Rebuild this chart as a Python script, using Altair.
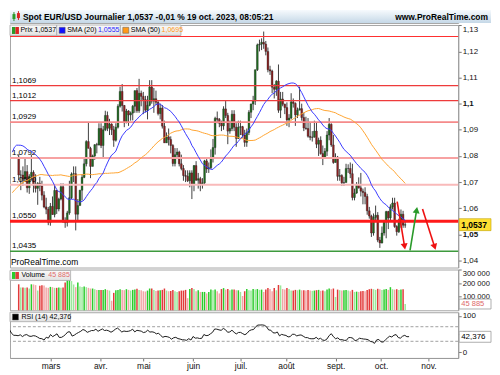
import math
import altair as alt
import pandas as pd

# ---------------- data ----------------
# closes before the visible window (21 nov. 2022 -> 3 févr. 2023), used to seed SMA / RSI
prior_closes = [1.0245, 1.0305, 1.0395, 1.0405, 1.0400, 1.0340, 1.0330, 1.0405,
                1.0525, 1.0535, 1.0490, 1.0467, 1.0507, 1.0556, 1.0530, 1.0537, 1.0630, 1.0680,
                1.0627, 1.0585, 1.0605, 1.0622, 1.0605, 1.0595, 1.0615, 1.0640, 1.0640, 1.0613,
                1.0662, 1.0705,
                1.0670, 1.0545, 1.0605, 1.0520, 1.0645, 1.0730, 1.0733, 1.0760, 1.0850, 1.0830,
                1.0820, 1.0790, 1.0795, 1.0830, 1.0855, 1.0870, 1.0885, 1.0915, 1.0890, 1.0870,
                1.0850, 1.0862, 1.0990, 1.0905, 1.0795]
first_open = 1.0795

# visible daily candles, 6 févr. 2023 -> 19 oct. 2023
closes = [
    1.0727, 1.0727, 1.0713, 1.0740, 1.0678, 1.0722, 1.0737, 1.0688, 1.0676, 1.0695,
    1.0685, 1.0650, 1.0605, 1.0596, 1.0546, 1.0607, 1.0576, 1.0668, 1.0597, 1.0635,
    1.0682, 1.0547, 1.0545, 1.0582, 1.0640, 1.0731, 1.0732, 1.0577, 1.0610, 1.0669,
    1.0718, 1.0770, 1.0855, 1.0829, 1.0760, 1.0800, 1.0843, 1.0842, 1.0905, 1.0840,
    1.0900, 1.0955, 1.0906, 1.0922, 1.0900, 1.0860, 1.0910, 1.0990, 1.1047, 1.0993,
    1.0927, 1.0972, 1.0957, 1.0964, 1.0990, 1.1050, 1.0973, 1.1040, 1.1028, 1.1016,
    1.0975, 1.0994, 1.1064, 1.1010, 1.1019, 1.1005, 1.0962, 1.0983, 1.0914, 1.0850,
    1.0873, 1.0863, 1.0840, 1.0771, 1.0805, 1.0815, 1.0770, 1.0752, 1.0725, 1.0722,
    1.0705, 1.0735, 1.0689, 1.0763, 1.0707, 1.0713, 1.0693, 1.0697, 1.0781, 1.0750,
    1.0755, 1.0792, 1.0832, 1.0944, 1.0940, 1.0925, 1.0915, 1.0980, 1.0955, 1.0895,
    1.0905, 1.0960, 1.0910, 1.0867, 1.0910, 1.0912, 1.0880, 1.0852, 1.0890, 1.0967,
    1.0999, 1.1010, 1.1130, 1.1225, 1.1228, 1.1235, 1.1228, 1.1200, 1.1130, 1.1125,
    1.1063, 1.1055, 1.1086, 1.0975, 1.1018, 1.0998, 1.0985, 1.0938, 1.0945, 1.1007,
    1.1001, 1.0957, 1.0975, 1.0981, 1.0947, 1.0907, 1.0905, 1.0875, 1.0871, 1.0872,
    1.0895, 1.0845, 1.0860, 1.0809, 1.0794, 1.0818, 1.0880, 1.0921, 1.0842, 1.0775,
    1.0795, 1.0722, 1.0725, 1.0697, 1.0698, 1.0752, 1.0752, 1.0732, 1.0641, 1.0658,
    1.0691, 1.0678, 1.0665, 1.0660, 1.0645, 1.0590, 1.0570, 1.0505, 1.0565, 1.0573,
    1.0478, 1.0467, 1.0505, 1.0548, 1.0587, 1.0563, 1.0605, 1.0620, 1.0530, 1.0510,
    1.0555, 1.0577, 1.0535, 1.0537]
highs = [
    1.0806, 1.0745, 1.0760, 1.0790, 1.0765, 1.0730, 1.0805, 1.0745, 1.0730, 1.0700,
    1.0720, 1.0705, 1.0665, 1.0640, 1.0605, 1.0620, 1.0645, 1.0690, 1.0670, 1.0640,
    1.0695, 1.0695, 1.0565, 1.0590, 1.0705, 1.0737, 1.0760, 1.0760, 1.0635, 1.0670,
    1.0730, 1.0790, 1.0860, 1.0930, 1.0835, 1.0805, 1.0845, 1.0850, 1.0925, 1.0925,
    1.0915, 1.0973, 1.0970, 1.0942, 1.0925, 1.0915, 1.0925, 1.0998, 1.1065, 1.1075,
    1.0995, 1.0980, 1.0975, 1.0970, 1.0995, 1.1050, 1.1060, 1.1095, 1.1050, 1.1045,
    1.1030, 1.1030, 1.1090, 1.1090, 1.1060, 1.1050, 1.1010, 1.1000, 1.0995, 1.0935,
    1.0890, 1.0905, 1.0875, 1.0845, 1.0830, 1.0830, 1.0820, 1.0805, 1.0765, 1.0745,
    1.0745, 1.0745, 1.0745, 1.0765, 1.0780, 1.0735, 1.0720, 1.0715, 1.0785, 1.0790,
    1.0775, 1.0825, 1.0865, 1.0950, 1.0970, 1.0945, 1.0935, 1.0990, 1.1010, 1.0965,
    1.0935, 1.0975, 1.0975, 1.0925, 1.0935, 1.0935, 1.0915, 1.0900, 1.0905, 1.0975,
    1.1000, 1.1030, 1.1130, 1.1230, 1.1245, 1.1250, 1.1276, 1.1240, 1.1215, 1.1145,
    1.1130, 1.1075, 1.1090, 1.1150, 1.1045, 1.1045, 1.1000, 1.1005, 1.0960, 1.1040,
    1.1020, 1.1005, 1.0985, 1.1065, 1.1000, 1.0965, 1.0950, 1.0945, 1.0930, 1.0895,
    1.0935, 1.0930, 1.0870, 1.0875, 1.0840, 1.0830, 1.0895, 1.0945, 1.0925, 1.0880,
    1.0810, 1.0800, 1.0750, 1.0730, 1.0720, 1.0770, 1.0768, 1.0775, 1.0770, 1.0675,
    1.0700, 1.0718, 1.0735, 1.0675, 1.0680, 1.0655, 1.0605, 1.0575, 1.0580, 1.0610,
    1.0585, 1.0490, 1.0530, 1.0555, 1.0590, 1.0590, 1.0615, 1.0640, 1.0640, 1.0535,
    1.0560, 1.0595, 1.0590, 1.0550]
lows = [
    1.0707, 1.0669, 1.0685, 1.0700, 1.0660, 1.0655, 1.0710, 1.0660, 1.0660, 1.0613,
    1.0665, 1.0630, 1.0600, 1.0577, 1.0535, 1.0533, 1.0575, 1.0565, 1.0578, 1.0588,
    1.0630, 1.0545, 1.0525, 1.0530, 1.0575, 1.0635, 1.0700, 1.0515, 1.0555, 1.0610,
    1.0630, 1.0715, 1.0760, 1.0830, 1.0715, 1.0760, 1.0785, 1.0810, 1.0840, 1.0830,
    1.0790, 1.0895, 1.0895, 1.0880, 1.0880, 1.0835, 1.0855, 1.0905, 1.0985, 1.0970,
    1.0910, 1.0925, 1.0915, 1.0935, 1.0936, 1.0965, 1.0965, 1.0965, 1.0990, 1.0960,
    1.0966, 1.0940, 1.0990, 1.1000, 1.0965, 1.0995, 1.0955, 1.0940, 1.0905, 1.0850,
    1.0850, 1.0840, 1.0810, 1.0760, 1.0760, 1.0790, 1.0760, 1.0745, 1.0705, 1.0700,
    1.0700, 1.0680, 1.0635, 1.0665, 1.0705, 1.0675, 1.0665, 1.0675, 1.0690, 1.0735,
    1.0735, 1.0750, 1.0775, 1.0805, 1.0925, 1.0910, 1.0895, 1.0900, 1.0945, 1.0845,
    1.0885, 1.0895, 1.0895, 1.0835, 1.0865, 1.0880, 1.0870, 1.0835, 1.0835, 1.0880,
    1.0945, 1.0975, 1.0995, 1.1125, 1.1200, 1.1205, 1.1210, 1.1185, 1.1120, 1.1110,
    1.1040, 1.1020, 1.1030, 1.0965, 1.0945, 1.0990, 1.0960, 1.0915, 1.0910, 1.0940,
    1.0985, 1.0915, 1.0945, 1.0975, 1.0935, 1.0895, 1.0900, 1.0870, 1.0860, 1.0855,
    1.0870, 1.0830, 1.0800, 1.0805, 1.0765, 1.0790, 1.0800, 1.0860, 1.0835, 1.0770,
    1.0775, 1.0705, 1.0705, 1.0685, 1.0685, 1.0700, 1.0735, 1.0715, 1.0630, 1.0630,
    1.0655, 1.0675, 1.0645, 1.0615, 1.0615, 1.0575, 1.0560, 1.0490, 1.0495, 1.0550,
    1.0470, 1.0448, 1.0465, 1.0495, 1.0485, 1.0520, 1.0550, 1.0595, 1.0525, 1.0495,
    1.0505, 1.0525, 1.0525, 1.0525]
# daily volume, thousands
volumes_k = [
    191, 168, 168, 165, 168, 160, 191, 190, 185, 145,
    180, 185, 183, 168, 165, 172, 170, 165, 165, 168,
    165, 168, 204, 226, 226, 215, 190, 170, 204, 175,
    172, 175, 170, 165, 160, 160, 155, 150, 150, 150,
    150, 155, 150, 145, 70, 128, 147, 150, 155, 150,
    148, 155, 150, 145, 150, 152, 158, 150, 148, 140,
    138, 145, 160, 160, 150, 142, 145, 148, 150, 160,
    145, 140, 142, 150, 140, 135, 140, 145, 145, 150,
    89, 156, 163, 156, 140, 147, 135, 135, 135, 124,
    135, 152, 147, 152, 140, 124, 156, 163, 152, 156,
    147, 152, 152, 147, 147, 135, 105, 140, 156, 147,
    145, 156, 152, 156, 150, 152, 135, 152, 163, 156,
    140, 163, 147, 186, 183, 156, 152, 163, 156, 145,
    145, 150, 147, 152, 147, 147, 145, 150, 145, 143,
    145, 148, 150, 143, 145, 140, 152, 160, 155, 160,
    98, 152, 148, 145, 148, 150, 145, 140, 150, 135,
    137, 135, 140, 142, 140, 150, 155, 158, 155, 150,
    158, 155, 150, 152, 156, 150, 170, 155, 152, 155,
    150, 152, 155, 45.885]

level_values = [1.1257, 1.1069, 1.1012, 1.0929, 1.0792, 1.0690, 1.0550, 1.0435]
level_labels = ["1,1257", "1,1069", "1,1012", "1,0929", "1,0792", "1,0690", "1,0550", "1,0435"]
level_colors = ["#ff3030", "#ee3b3b", "#ee3b3b", "#f58a8a", "#f7a2a2", "#f9baba", "#ff1a1a", "#3d9a3d"]
level_widths = [1.2, 1.2, 1.2, 1.8, 2.0, 2.0, 3.0, 1.5]

month_index = [17, 40, 60, 83, 105, 126, 149, 170, 192]
month_labels = ["mars", "avr.", "mai", "juin", "juil.", "août", "sept.", "oct.", "nov."]
price_ticks = [1.04, 1.05, 1.06, 1.07, 1.08, 1.09, 1.10, 1.11, 1.12, 1.13]
vol_ticks = [100000, 200000, 300000]
rsi_ticks = [0, 50, 100]
rsi_levels = [70, 30]

arrow_x1 = [179.2, 185.3, 191.2]
arrow_y1 = [1.0625, 1.0439, 1.0597]
arrow_x2 = [182.9, 188.6, 197.3]
arrow_y2 = [1.0444, 1.0602, 1.0443]
arrow_colors = ["#ee1111", "#2a9a2a", "#ee1111"]

last_price, last_price_txt = 1.0537, "1,0537"
last_rsi, last_rsi_txt = 42.376, "42,376"
last_vol_txt = "45 885"

# ---------------- geometry / styles ----------------
FONT = "Liberation Sans"
W = 451
H_T, H_P, H_V, H_R = 13, 244, 41, 46
X_DOM = [-1.77, 205.75]
P_DOM = [1.0373, 1.1301]
V_DOM = [0, 300000]
R_DOM = [-15.7, 109.7]
UP, DOWN = "#1f6e1f", "#8e1f1f"
LEG = 7.1  # legend font size

xs = alt.Scale(domain=X_DOM, nice=False, zero=False)
ps = alt.Scale(domain=P_DOM, nice=False, zero=False)
vs = alt.Scale(domain=V_DOM, nice=False, zero=True)
rs = alt.Scale(domain=R_DOM, nice=False, zero=False)

# ---------------- tables ----------------
n = len(closes)
opens = [first_open] + closes[:-1]
candles = pd.DataFrame({
    "i": list(range(n)), "o": opens, "c": closes,
    "h": [max(h, o, c) for h, o, c in zip(highs, opens, closes)],
    "l": [min(l, o, c) for l, o, c in zip(lows, opens, closes)],
})
candles["col"] = [UP if c >= o else DOWN for o, c in zip(opens, closes)]

vols = [v * 1000 for v in volumes_k]
vcols = []
for k in range(n):
    up = closes[k] >= opens[k]
    light = k > 0 and vols[k] < vols[k - 1]
    if up:
        vcols.append("#9be89b" if light else "#2bcc2b")
    else:
        vcols.append("#f2a6a6" if light else "#e23a3a")
vol_df = pd.DataFrame({"i": list(range(n)), "v": vols, "col": vcols})

allc = pd.Series(prior_closes + closes)
idx_all = list(range(-len(prior_closes), n))
d = allc.diff()
gain = d.clip(lower=0)
loss = (-d).clip(lower=0)
ag = gain.ewm(alpha=1 / 14, adjust=False).mean()
al = loss.ewm(alpha=1 / 14, adjust=False).mean()
ind = pd.DataFrame({
    "i": idx_all,
    "sma20": allc.rolling(20).mean(),
    "sma50": allc.rolling(50).mean(),
    "rsi": 100 - 100 / (1 + ag / al),
})
ind = ind[ind["i"] >= -3].reset_index(drop=True)

levels = pd.DataFrame({"p": level_values, "t": level_labels, "col": level_colors, "w": level_widths})

kx = W / (X_DOM[1] - X_DOM[0])
ky = H_P / (P_DOM[1] - P_DOM[0])
arr_rows = []
for x1, y1, x2, y2, col in zip(arrow_x1, arrow_y1, arrow_x2, arrow_y2, arrow_colors):
    dx = (x2 - x1) * kx
    dy = -(y2 - y1) * ky
    L = math.hypot(dx, dy)
    ux, uy = dx / L, dy / L
    hx = x2 - 3.5 * ux / kx
    hy = y2 + 3.5 * uy / ky
    ang = math.degrees(math.atan2(dx, -dy)) % 360
    arr_rows.append({"x1": x1, "y1": y1, "hx": hx, "hy": hy, "ang": ang, "col": col})
arrows = pd.DataFrame(arr_rows)

one = pd.DataFrame({"a": [0]})

# ---------------- axes ----------------
p_axis = alt.Axis(
    orient="right", values=price_ticks, title=None, grid=False,
    labelExpr="replace(format(datum.value, '.2~f'), '.', ',')",
    tickSize=3, labelPadding=1, labelFontSize=8,
    labelFontWeight=alt.condition("abs(datum.value - 1.1) < 0.0001 || abs(datum.value - 1.05) < 0.0001",
                                  alt.value("bold"), alt.value("normal")),
    labelBaseline=alt.condition("datum.value > 1.125", alt.value("top"), alt.value("middle")),
    minExtent=33, maxExtent=33)
v_axis = alt.Axis(
    orient="right", values=vol_ticks, title=None, grid=False,
    labelExpr="replace(format(datum.value, ','), ',', ' ')",
    tickSize=3, labelPadding=1, labelFontSize=7.6,
    labelBaseline=alt.condition("datum.value > 250000", alt.value("top"), alt.value("middle")),
    minExtent=33, maxExtent=33)
r_axis = alt.Axis(orient="right", values=rsi_ticks, title=None, grid=False,
                  tickSize=3, labelPadding=1, labelFontSize=8, minExtent=33, maxExtent=33)
month_expr = " : ".join(f"datum.value == {i} ? '{m}'" for i, m in zip(month_index, month_labels)) + " : ''"
x_axis = alt.Axis(values=month_index, labelExpr=month_expr, title=None, grid=False,
                  tickSize=3, labelPadding=1, labelFontSize=8.5, labelFlush=False)
NOX = dict(scale=xs, axis=None)


def legend_icon(x0, y0, col_l, col_r=None):
    base = alt.Chart(one)
    if col_r is None:
        return [base.mark_rect(fill=col_l, stroke="#555", strokeWidth=0.5).encode(
            x=alt.value(x0), x2=alt.value(x0 + 6), y=alt.value(y0), y2=alt.value(y0 + 6))]
    return [base.mark_rect(fill=col_l).encode(x=alt.value(x0), x2=alt.value(x0 + 3.5),
                                              y=alt.value(y0), y2=alt.value(y0 + 7)),
            base.mark_rect(fill=col_r).encode(x=alt.value(x0 + 3.5), x2=alt.value(x0 + 7),
                                              y=alt.value(y0), y2=alt.value(y0 + 7))]


box_fill = alt.LinearGradient(gradient="linear", x1=0, x2=0, y1=0, y2=1,
                              stops=[alt.GradientStop(color="#fafafa", offset=0),
                                     alt.GradientStop(color="#e2e2e2", offset=1)])


def legend_box(x0, x1, y0, y1):
    return alt.Chart(one).mark_rect(fill=box_fill, stroke="#a8a8a8", strokeWidth=0.8).encode(
        x=alt.value(x0), x2=alt.value(x1), y=alt.value(y0), y2=alt.value(y1))


def txt(x, y, s, color="#000", size=8, weight="normal", align="left"):
    return alt.Chart(one).mark_text(align=align, baseline="middle", fontSize=size, font=FONT,
                                    fontWeight=weight, color=color).encode(
        x=alt.value(x), y=alt.value(y), text=alt.value(s))


def vsep(x, y0, y1):
    return alt.Chart(one).mark_rule(color="#a8a8a8").encode(
        x=alt.value(x), y=alt.value(y0), y2=alt.value(y1))


# ---------------- title bar ----------------
title_fill = alt.LinearGradient(gradient="linear", x1=0, x2=0, y1=0, y2=1,
                                stops=[alt.GradientStop(color="#f6fafd", offset=0),
                                       alt.GradientStop(color="#c5d8e7", offset=1)])
title_panel = alt.layer(
    alt.Chart(one).mark_rect(fill=title_fill).encode(
        x=alt.value(0), x2=alt.value(W + 33), y=alt.value(0), y2=alt.value(H_T)),
    alt.Chart(one).mark_rule(color="#2a8a2a", strokeWidth=1).encode(
        x=alt.value(4), y=alt.value(2), y2=alt.value(11)),
    alt.Chart(one).mark_rect(fill="#2a9a2a").encode(
        x=alt.value(2.5), x2=alt.value(5.5), y=alt.value(4), y2=alt.value(9)),
    alt.Chart(one).mark_rule(color="#cc2222", strokeWidth=1).encode(
        x=alt.value(8.5), y=alt.value(1), y2=alt.value(10)),
    alt.Chart(one).mark_rect(fill="#dd2222").encode(
        x=alt.value(7), x2=alt.value(10), y=alt.value(3), y2=alt.value(8)),
    txt(13, 6.5, "Spot EUR/USD Journalier 1,0537 -0,01 % 19 oct. 2023, 08:05:21", size=8.5, weight="bold"),
    txt(W + 30, 6.5, "www.ProRealTime.com", size=8.5, weight="bold", align="right"),
).properties(width=W, height=H_T)

# ---------------- price panel ----------------
PY = dict(scale=ps, axis=p_axis)
price_layers = [
    alt.Chart(candles).mark_rule(color="#2a2a2a", strokeWidth=0.9).encode(
        x=alt.X("i:Q", **NOX), y=alt.Y("l:Q", **PY), y2="h:Q"),
    alt.Chart(candles).mark_bar(size=1.8, stroke="#202020", strokeWidth=0.35).encode(
        x=alt.X("i:Q", **NOX), y=alt.Y("o:Q", **PY), y2="c:Q",
        color=alt.Color("col:N", scale=None)),
    alt.Chart(levels).mark_rule().encode(
        x=alt.value(0), x2=alt.value(W),
        y=alt.Y("p:Q", **PY),
        color=alt.Color("col:N", scale=None),
        strokeWidth=alt.StrokeWidth("w:Q", scale=None)),
    alt.Chart(levels).mark_text(align="left", baseline="bottom", dy=-1, fontSize=8, font=FONT,
                                color="#000").encode(
        x=alt.value(2), y=alt.Y("p:Q", **PY), text="t:N"),
    alt.Chart(ind).mark_line(clip=True, color="#ffa431", strokeWidth=1).encode(
        x=alt.X("i:Q", **NOX), y=alt.Y("sma50:Q", **PY)),
    alt.Chart(ind).mark_line(clip=True, color="#3a3aff", strokeWidth=1).encode(
        x=alt.X("i:Q", **NOX), y=alt.Y("sma20:Q", **PY)),
    alt.Chart(arrows).mark_rule(strokeWidth=1.6).encode(
        x=alt.X("x1:Q", **NOX), x2="hx:Q", y=alt.Y("y1:Q", **PY), y2="hy:Q",
        color=alt.Color("col:N", scale=None)),
    alt.Chart(arrows).mark_point(shape="triangle", filled=True, size=50, opacity=1).encode(
        x=alt.X("hx:Q", **NOX), y=alt.Y("hy:Q", **PY),
        angle=alt.Angle("ang:Q", scale=None),
        color=alt.Color("col:N", scale=None)),
    txt(1, H_P - 6, "ProRealTime.com", size=8.5),
    legend_box(0, 172, 0, 10.5),
    *legend_icon(2, 2, "#2a9a2a", "#dd2222"),
    txt(10.5, 5.5, "Prix 1,0537", size=LEG),
    vsep(47, 0, 10.5),
    *legend_icon(49.5, 2.3, "#1010ff"),
    txt(57.5, 5.5, "SMA (20)", size=LEG),
    txt(88.5, 5.5, "1,0555", color="#2626ff", size=LEG),
    vsep(111, 0, 10.5),
    *legend_icon(113.5, 2.3, "#ff9a1a"),
    txt(121.5, 5.5, "SMA (50)", size=LEG),
    txt(152.5, 5.5, "1,0695", color="#ff9a1a", size=LEG),
    alt.Chart(pd.DataFrame({"p": [last_price], "t": [last_price_txt]})).mark_rect(
        fill="#ffe033", stroke="#c0a000", strokeWidth=0.6, yOffset=-6, y2Offset=6).encode(
        x=alt.value(W + 1), x2=alt.value(W + 33), y=alt.Y("p:Q", **PY), y2="p:Q"),
    alt.Chart(pd.DataFrame({"p": [last_price], "t": [last_price_txt]})).mark_text(
        align="left", baseline="middle", fontSize=8.5, fontWeight="bold", font=FONT, color="#000").encode(
        x=alt.value(W + 3), y=alt.Y("p:Q", **PY), text="t:N"),
]
price_panel = alt.layer(*price_layers).properties(width=W, height=H_P)

# ---------------- volume panel ----------------
VY = dict(scale=vs, axis=v_axis)
vol_last_df = pd.DataFrame({"v": [vols[-1]], "t": [last_vol_txt]})
vol_layers = [
    alt.Chart(vol_df).mark_bar(size=1.5).encode(
        x=alt.X("i:Q", **NOX), y=alt.Y("v:Q", **VY), color=alt.Color("col:N", scale=None)),
    legend_box(0, 61, 1, 11),
    *legend_icon(2, 2.5, "#2bcc2b", "#e23a3a"),
    txt(11.5, 6, "Volume", size=LEG),
    txt(38.5, 6, last_vol_txt, color="#e06a6a", size=LEG),
    alt.Chart(vol_last_df).mark_rect(fill="#ffffff", stroke="#9a9a9a", strokeWidth=0.8,
                                     yOffset=-5, y2Offset=5).encode(
        x=alt.value(W + 1), x2=alt.value(W + 33), y=alt.Y("v:Q", **VY), y2="v:Q"),
    alt.Chart(vol_last_df).mark_text(align="left", baseline="middle", fontSize=7.6, font=FONT,
                                     color="#e06a6a").encode(
        x=alt.value(W + 3), y=alt.Y("v:Q", **VY), text="t:N"),
]
vol_panel = alt.layer(*vol_layers).properties(width=W, height=H_V)

# ---------------- RSI panel ----------------
RY = dict(scale=rs, axis=r_axis)
XA = dict(scale=xs, axis=x_axis)
rsi_last_df = pd.DataFrame({"r": [last_rsi], "t": [last_rsi_txt]})
rsi_layers = [
    alt.Chart(pd.DataFrame({"r": rsi_levels})).mark_rule(color="#a0a0a0", strokeDash=[3, 2], strokeWidth=1).encode(
        y=alt.Y("r:Q", **RY)),
    alt.Chart(ind).mark_line(clip=True, color="#1a1a1a", strokeWidth=1).encode(
        x=alt.X("i:Q", **XA), y=alt.Y("rsi:Q", **RY)),
    legend_box(0, 61, 0, 9.5),
    *legend_icon(2.5, 1.8, "#000000"),
    txt(11.5, 5, "RSI (14) 42,376", size=LEG),
    alt.Chart(rsi_last_df).mark_rect(fill="#ffffff", stroke="#9a9a9a", strokeWidth=0.8,
                                     yOffset=-5.5, y2Offset=5.5).encode(
        x=alt.value(W + 1), x2=alt.value(W + 33), y=alt.Y("r:Q", **RY), y2="r:Q"),
    alt.Chart(rsi_last_df).mark_text(align="left", baseline="middle", fontSize=8, font=FONT,
                                     color="#000").encode(
        x=alt.value(W + 3), y=alt.Y("r:Q", **RY), text="t:N"),
]
rsi_panel = alt.layer(*rsi_layers).properties(width=W, height=H_R)

chart = alt.vconcat(title_panel, price_panel, vol_panel, rsi_panel, spacing=0).properties(
    padding={"left": 0, "top": 0, "right": 0, "bottom": 0}
).configure_view(stroke="#a5a5a5", strokeWidth=1).configure_axis(
    labelFont=FONT, labelColor="#111", tickColor="#777", domainColor="#9a9a9a"
).configure_text(font=FONT)

chart.save("out.html", embed_options={"renderer": "svg", "actions": False})
